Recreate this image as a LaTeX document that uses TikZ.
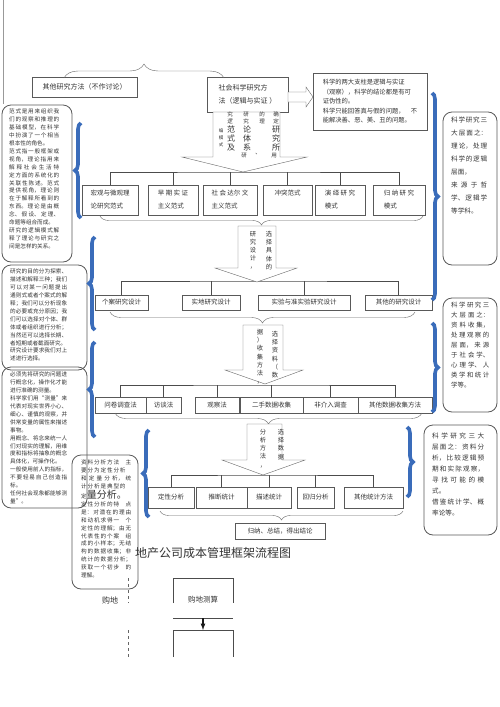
\documentclass[tikz,border=0pt]{standalone}
\usepackage{fontspec}
\newfontfamily\cjkfont{Noto Sans CJK SC}
\XeTeXlinebreaklocale "zh"
\XeTeXlinebreakskip=0pt plus 1pt
\usetikzlibrary{positioning}
\usetikzlibrary{arrows}
\usetikzlibrary{decorations.pathreplacing}
\definecolor{braceblue}{RGB}{58,108,186}
\tikzset{
  box_row/.style={draw, color=black!65, text=black!80, inner sep=2pt, align=center, font=\cjkfont\fontsize{6.5}{13}\selectfont},
  box_note/.style={draw=black!65, rounded corners=9pt, thick},
  text_note/.style={anchor=north west, inner sep=0pt, text=black!80, align=justify, font=\cjkfont\fontsize{5.6}{7.9}\selectfont},
  text_vert/.style={anchor=north, inner sep=0pt, align=center, text=black!80, font=\cjkfont\fontsize{6.3}{8.2}\selectfont},
  text_big/.style={anchor=north, inner sep=0pt, align=center, text=black!80, font=\cjkfont\fontsize{8}{9}\selectfont},
  arrow_block/.style={draw=black!60, fill=white, line join=miter},
  tree_line/.style={draw=black!70, thick},
  brace_row/.style={draw=black!60, decorate, decoration={brace, amplitude=9pt}},
  brace_side/.style={draw=braceblue, line width=3.6pt, decorate, decoration={brace, amplitude=6pt}},
  arrow_down/.style={-latex, very thick, color=black!90}}

\begin{document}
\begin{tikzpicture}[x=1pt, y=-1pt]
\path[use as bounding box, fill=white] (0,0) rectangle (500,707);
\draw[black!40] (3,0) -- (3,104);

%% top
\node[box_row, minimum width=105pt, minimum height=20pt, font=\cjkfont\fontsize{7}{12}\selectfont] (other) at (84.5,87) {其他研究方法（不作讨论）};
\node[box_row, minimum width=81pt, minimum height=35pt, align=left, font=\cjkfont\fontsize{7}{13}\selectfont] (social) at (247.5,94.5) {社会科学研究方\\法（逻辑与实证 ）};
\node[box_row, minimum width=114pt, minimum height=57pt, align=left, font=\cjkfont\fontsize{6.3}{9.5}\selectfont] (pillar) at (370,101.5) {科学的两大支柱是逻辑与实证\\（观察），科学的结论都是有可\\证伪性的。\\科学只能回答真与假的问题，　不\\能解决善、恶、美、丑的问题。};
\draw[brace_row, decoration={amplitude=14pt}] (64,78) -- (224,78);
\draw[arrow_block] (288,92) -- (306,92) -- (306,87) -- (313,97) -- (306,107) -- (306,102) -- (288,102) -- cycle;

%% row 1
\node[box_row, minimum width=56pt, minimum height=30pt, align=left] (r1a) at (110,200) {宏观与微观理\\论研究范式};
\node[box_row, minimum width=50pt, minimum height=30pt, align=left] (r1b) at (173,200) {早 期 实 证\\主义范式};
\node[box_row, minimum width=54pt, minimum height=30pt, align=left] (r1c) at (230,200) {社 会 达尔 文\\主义范式};
\node[box_row, minimum width=49pt, minimum height=30pt, align=left] (r1d) at (287.5,200) {冲突范式\\\phantom{冲}};
\node[box_row, minimum width=50pt, minimum height=30pt, align=left] (r1e) at (340,200) {演 绎 研 究\\模式};
\node[box_row, minimum width=52pt, minimum height=30pt, align=left] (r1f) at (399,200) {归 纳 研 究\\模式};
\coordinate (busA) at (243,172);
\draw[tree_line] (r1a.north) |- (busA) -| (r1f.north);
\foreach \n in {r1b,r1c,r1d,r1e}
  \draw[tree_line] (\n.north) -- (\n.north |- busA);
\draw[arrow_block] (213,112) -- (213,157) -- (182,157) -- (243,172) -- (307,157) -- (280,157) -- (280,112) -- cycle;
\node[text_vert, font=\cjkfont\fontsize{4.5}{7}\selectfont] (wA0) at (221,128) {编\\模\\式};
\node[text_vert, font=\cjkfont\fontsize{5.5}{7}\selectfont] (wA1) at (230,112) {究\\逻};
\node[text_big] (wA2) at (231,126) {范\\式\\及};
\node[text_vert, font=\cjkfont\fontsize{5.5}{7}\selectfont] (wA3) at (246,112) {研\\究};
\node[text_big] (wA4) at (247,126) {论\\体\\系};
\node[text_vert, font=\cjkfont\fontsize{5.5}{7}\selectfont] (wA5) at (244,153) {研};
\node[text_vert, font=\cjkfont\fontsize{5.5}{7}\selectfont] (wA6) at (262,112) {的\\理};
\node[text_vert, font=\cjkfont\fontsize{5.5}{7}\selectfont] (wA7) at (258,153) {、};
\node[text_vert, font=\cjkfont\fontsize{5.5}{7}\selectfont] (wA8) at (276,112) {确\\定};
\node[text_big] (wA9) at (276,126) {研\\究\\所};
\node[text_vert, font=\cjkfont\fontsize{5.5}{7}\selectfont] (wA10) at (274,153) {用};
\draw[brace_row] (423,216) -- (100,216);

%% row 2
\node[box_row, minimum width=53pt, minimum height=15pt] (r2a) at (121.5,302.5) {个案研究设计};
\node[box_row, minimum width=58pt, minimum height=15pt] (r2b) at (211,302.5) {实地研究设计};
\node[box_row, minimum width=92pt, minimum height=15pt] (r2c) at (304,302.5) {实验与准实验研究设计};
\node[box_row, minimum width=67pt, minimum height=15pt] (r2d) at (398.5,302.5) {其他的研究设计};
\coordinate (busB) at (257,281);
\draw[tree_line] (r2a.north) |- (busB) -| (r2d.north);
\foreach \n in {r2b,r2c}
  \draw[tree_line] (\n.north) -- (\n.north |- busB);
\draw[arrow_block] (238,226) -- (238,268) -- (215,268) -- (257,282) -- (297,268) -- (276,268) -- (276,226) -- cycle;
\node[text_vert] (wB1) at (253,231) {研\\究\\设\\计\\，};
\node[text_vert] (wB2) at (269,231) {选\\择\\具\\体\\的};
\draw[brace_row, decoration={amplitude=11pt}] (415,312) -- (110,312);

%% row 3
\node[box_row, minimum width=51pt, minimum height=16pt] (r3a) at (120.5,405) {问卷调查法};
\node[box_row, minimum width=35pt, minimum height=16pt] (r3b) at (163.5,405) {访谈法};
\node[box_row, minimum width=44pt, minimum height=16pt] (r3c) at (217,405) {观察法};
\node[box_row, minimum width=63pt, minimum height=16pt] (r3d) at (271.5,405) {二手数据收集};
\node[box_row, minimum width=55pt, minimum height=16pt] (r3e) at (330.5,405) {非介入调查};
\node[box_row, minimum width=74pt, minimum height=16pt] (r3f) at (395,405) {其他数据收集方法};
\coordinate (busC) at (265,385);
\draw[tree_line] (r3a.north) |- (busC) -| (r3f.north);
\foreach \n in {r3b,r3c,r3d,r3e}
  \draw[tree_line] (\n.north) -- (\n.north |- busC);
\draw[arrow_block] (243,325) -- (243,370) -- (225,370) -- (265,384) -- (303,370) -- (283,370) -- (283,325) -- cycle;
\node[text_vert] (wC1) at (260,329) {据\\）\\收\\集\\方\\法\\，};
\node[text_vert] (wC2) at (275,331) {选\\择\\资\\料\\（\\数};
\draw[brace_row, decoration={amplitude=11pt}] (422,413) -- (115,413);

%% row 4
\node[box_row, minimum width=46pt, minimum height=21pt] (r4a) at (171,497.5) {定性分析};
\node[box_row, minimum width=51pt, minimum height=21pt] (r4b) at (221.5,497.5) {推断统计};
\node[box_row, minimum width=44pt, minimum height=21pt] (r4c) at (269,497.5) {描述统计};
\node[box_row, minimum width=37pt, minimum height=21pt] (r4d) at (315.5,497.5) {回归分析};
\node[box_row, minimum width=59pt, minimum height=21pt] (r4e) at (373.5,497.5) {其他统计方法};
\coordinate (busD) at (263,475);
\draw[tree_line] (r4a.north) |- (busD) -| (r4e.north);
\foreach \n in {r4b,r4c,r4d}
  \draw[tree_line] (\n.north) -- (\n.north |- busD);
\draw[arrow_block] (247,424) -- (247,460) -- (222,460) -- (263,475) -- (305,460) -- (282,460) -- (282,424) -- cycle;
\node[text_vert] (wD1) at (263,429) {分\\析\\方\\法\\，};
\node[text_vert] (wD2) at (281,429) {选\\择\\数\\据};
\draw[brace_row] (403,511) -- (160,511);
\node[box_row, minimum width=90pt, minimum height=16pt] (final) at (280,531) {归纳、总结，得出结论};

%% left notes
\draw[box_note] (2,105) rectangle (72,262);
\node[text_note, text width=50pt] (noteA) at (9,109) {范式是用来组织我们的观察和推理的基础模型，在科学中扮演了一个相当根本性的角色。\par 范式指一般框架或视角，理论指用来解释社会生活特定方面的系统化的关联性陈述。范式提供视角，理论则在于解释所看到的东西。理论是由概念、假设、定理、命题等组合而成。\par 研究的逻辑模式解释了理论与研究之间是怎样的关系。};
\draw[box_note] (2,265) rectangle (87,370);
\node[text_note, text width=57pt] (noteB) at (10,269) {研究的目的分为探索、描述和解释三种；我们可以对某一问题提出通则式或者个案式的解释；我们可以分析现象的必要或充分原因；我们可以选择对个体、群体或者组织进行分析；当然还可以选择长期、者短期或者截面研究。\par 研究设计要求我们对上述进行选择。};
\draw[box_note] (2,367) rectangle (87,508);
\node[text_note, text width=57pt] (noteC) at (10,372) {必须先将研究的问题进行概念化，操作化才能进行准确的测量。\par 科学家们用“测量”来代表对现实世界小心、细心、谨慎的观察，并供常变量的属性来描述事物。\par 用概念、将念来统一人们对现实的理解，用维度和指标将抽象的概念具体化，可操作化。\par 一般使用前人的指标，不要轻易自己创造指标。\par 任何社会现象都能够测量”。};
\draw[box_note] (72,455) rectangle (138,589);
\node[text_note, text width=50pt] (noteD) at (81,460) {资料分析方法　主要分为定性分析　和定量分析，统计分析是典型的　定{\fontsize{10}{12}\selectfont 量分析。}\par 定性分析的特　点是：对潜在的理由和动机求得一　个定性的理解；由无代表性的个案　组成的小样本；无结构的数据收集；非统计的数据分析；获取一个初步　的理解。};

%% right notes
\draw[box_note] (443,112) rectangle (497,265);
\node[text_note, text width=36pt, font=\cjkfont\fontsize{6.6}{13}\selectfont] (noteE) at (451,117) {科学研究三大层面之：理论，处理科学的逻辑层面，\par 来源于哲学、逻辑学等学科。};
\draw[box_note] (443,298) rectangle (497,412);
\node[text_note, text width=38pt, font=\cjkfont\fontsize{6.4}{10}\selectfont] (noteF) at (451,302) {科学研究三大层面之：资料收集，处理观察的层面，来源于社会学、心理学、人类学和统计学等。};
\draw[box_note] (424,425) rectangle (497,535);
\node[text_note, text width=52pt, font=\cjkfont\fontsize{6.6}{11}\selectfont] (noteG) at (432,433) {科学研究三大层面之：资料分析，比较逻辑预期和实际观察，寻找可能的模式。\par 借鉴统计学、概率论等。};

%% blue braces
\draw[brace_side] (81,218) -- (81,123);
\draw[brace_side] (95,330) -- (95,237);
\draw[brace_side] (95,437) -- (95,342);
\draw[brace_side] (149,517) -- (149,430);
\draw[brace_side] (432,93) -- (432,300);
\draw[brace_side] (432,323) -- (432,412);
\draw[brace_side] (407,427) -- (407,497);

%% bottom
\node[text=black!80, font=\cjkfont\fontsize{12}{14}\selectfont] (title) at (213,553) {地产公司成本管理框架流程图};
\node[text=black!80, font=\cjkfont\fontsize{8}{10}\selectfont] (buy) at (110,600) {购地};
\node[text=black!80, font=\cjkfont\fontsize{7.5}{10}\selectfont] (calc) at (203,600) {购地测算};
\draw[black!70] (173,603) -- (173,578) -- (233,578) -- (233,603);
\draw[black!70] (173,618) -- (233,618);
\coordinate (gA) at (203,618);
\coordinate (gB) at (203,630);
\draw[arrow_down] (gA) -- (gB);
\draw[black!70] (173,657) -- (173,630) -- (233,630) -- (233,657);
\draw[black!60, dashed] (128,578) -- (128,603);
\draw[black!60, dashed] (128,630) -- (128,657);
\end{tikzpicture}
\end{document}
